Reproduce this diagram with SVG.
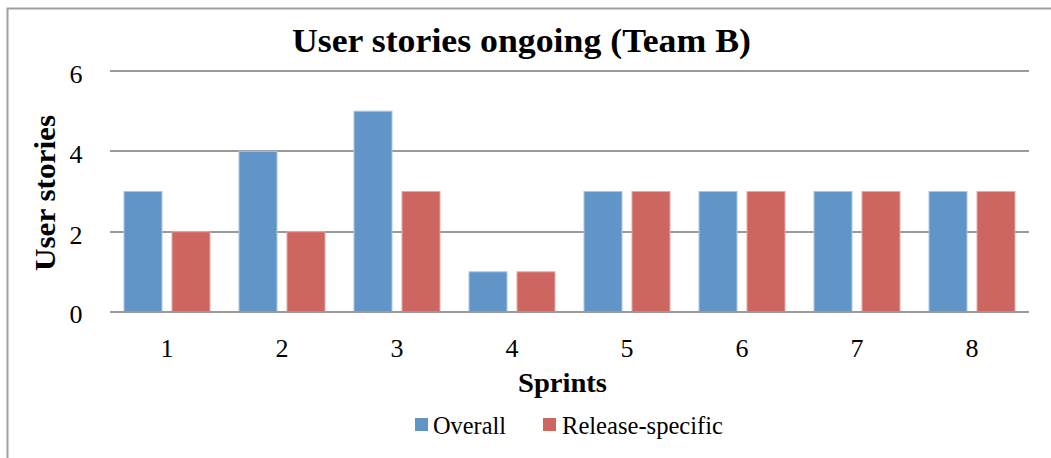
<svg xmlns="http://www.w3.org/2000/svg" width="1051" height="458" viewBox="0 0 1051 458">
<style>
text{font-family:"Liberation Serif","DejaVu Serif",serif;fill:#000}
.tick{font-size:26px}
.grid{stroke:#9a9a9a;stroke-width:2}
.b{fill:#6195C8;stroke:#A9C6E4;stroke-width:1}
.r{fill:#CD6660;stroke:#E4A9A6;stroke-width:1}
</style>
<rect x="7.5" y="8.5" width="1060" height="470" fill="#fff" stroke="#a0a0a0" stroke-width="2"/>
<text x="292" y="52" font-size="34" font-weight="bold" textLength="459" lengthAdjust="spacingAndGlyphs">User stories ongoing (Team B)</text>
<g id="grid">
<line class="grid" x1="110" y1="71" x2="1029" y2="71"/>
<line class="grid" x1="110" y1="151" x2="1029" y2="151"/>
<line class="grid" x1="110" y1="232" x2="1029" y2="232"/>
<line class="grid" x1="110" y1="312" x2="1029" y2="312"/>
</g>
<g id="yticks" class="tick" text-anchor="middle">
<text x="76" y="83">6</text>
<text x="76" y="163">4</text>
<text x="76" y="244">2</text>
<text x="76" y="323">0</text>
</g>
<text transform="translate(55,271) rotate(-90)" font-size="30" font-weight="bold" textLength="156" lengthAdjust="spacingAndGlyphs">User stories</text>
<g id="bars">
<rect class="b" x="124" y="191.5" width="38" height="120.5"/>
<rect class="r" x="172" y="231.7" width="38" height="80.3"/>
<rect class="b" x="239" y="151.3" width="38" height="160.7"/>
<rect class="r" x="287" y="231.7" width="38" height="80.3"/>
<rect class="b" x="354" y="111.2" width="38" height="200.8"/>
<rect class="r" x="402" y="191.5" width="38" height="120.5"/>
<rect class="b" x="469" y="271.8" width="38" height="40.2"/>
<rect class="r" x="517" y="271.8" width="38" height="40.2"/>
<rect class="b" x="584" y="191.5" width="38" height="120.5"/>
<rect class="r" x="632" y="191.5" width="38" height="120.5"/>
<rect class="b" x="699" y="191.5" width="38" height="120.5"/>
<rect class="r" x="747" y="191.5" width="38" height="120.5"/>
<rect class="b" x="814" y="191.5" width="38" height="120.5"/>
<rect class="r" x="862" y="191.5" width="38" height="120.5"/>
<rect class="b" x="929" y="191.5" width="38" height="120.5"/>
<rect class="r" x="977" y="191.5" width="38" height="120.5"/>
</g>
<line class="grid" x1="110" y1="312" x2="1029" y2="312"/>
<g id="xticks" class="tick" text-anchor="middle">
<text x="167" y="357">1</text>
<text x="282" y="357">2</text>
<text x="397" y="357">3</text>
<text x="512" y="357">4</text>
<text x="627" y="357">5</text>
<text x="742" y="357">6</text>
<text x="857" y="357">7</text>
<text x="972" y="357">8</text>
</g>
<text x="518" y="392" font-size="28" font-weight="bold" textLength="89" lengthAdjust="spacingAndGlyphs">Sprints</text>
<g id="legend">
<rect x="415" y="418" width="13" height="13" fill="#6195C8"/>
<text x="433" y="434" font-size="25" textLength="73" lengthAdjust="spacingAndGlyphs">Overall</text>
<rect x="543" y="418" width="13" height="13" fill="#CD6660"/>
<text x="562" y="434" font-size="25" textLength="161" lengthAdjust="spacingAndGlyphs">Release-specific</text>
</g>
</svg>
